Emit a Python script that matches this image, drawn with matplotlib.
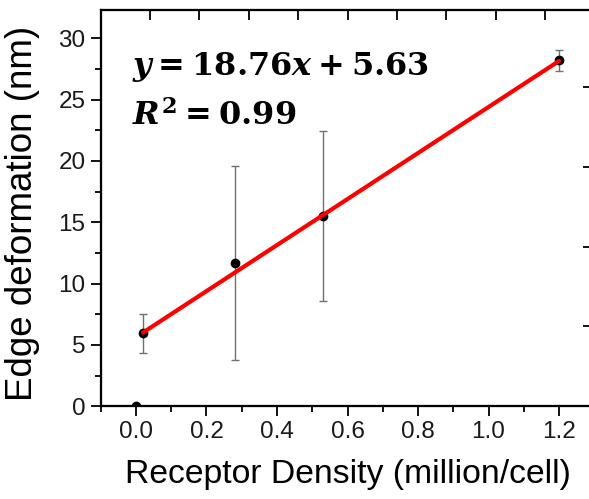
import matplotlib
matplotlib.use("Agg")
import matplotlib.pyplot as plt
import numpy as np

# Data
density = [0.0, 0.02, 0.28, 0.53, 1.2]
deformation = [0.0, 5.95, 11.65, 15.5, 28.2]
deform_err = [0.0, 1.6, 7.9, 6.95, 0.85]
fit_slope = 18.76
fit_intercept = 5.63
fit_x = [0.02, 1.2]
r_squared = 0.99
x_ticks = [0.0, 0.2, 0.4, 0.6, 0.8, 1.0, 1.2]
x_ticklabels = ["0.0", "0.2", "0.4", "0.6", "0.8", "1.0", "1.2"]
y_ticks = [0, 5, 10, 15, 20, 25, 30]
top_ticks = [-0.1, 0.04, 0.18, 0.32, 0.46, 0.60, 0.74, 0.88, 1.02, 1.16]
right_ticks = [0, 6.5, 13, 19.5, 26]

plt.rcParams['font.family'] = ['Liberation Sans', 'DejaVu Sans']
plt.rcParams['mathtext.fontset'] = 'custom'
plt.rcParams['mathtext.rm'] = 'DejaVu Serif:bold'
plt.rcParams['mathtext.it'] = 'DejaVu Serif:bold:italic'
plt.rcParams['mathtext.bf'] = 'DejaVu Serif:bold'

fig = plt.figure(figsize=(5.89, 4.99), dpi=100)
ax = fig.add_axes([0.171, 0.186, 0.838, 0.794])

xlim = (-0.1, 1.3)
ylim = (0, 32.3)

ax.errorbar(density, deformation, yerr=deform_err, fmt='none', ecolor='#707070',
            elinewidth=1.0, capsize=3, capthick=1.0, zorder=2)
ax.plot(density, deformation, 'o', color='black', markersize=6, zorder=3, clip_on=True)
fx = np.array(fit_x)
ax.plot(fx, fit_slope * fx + fit_intercept, color='#ff0000', linewidth=3, zorder=4,
        solid_capstyle='round')

ax.set_xlim(*xlim)
ax.set_ylim(*ylim)
ax.set_xticks(x_ticks)
ax.set_xticklabels(x_ticklabels)
ax.set_yticks(y_ticks)
ax.xaxis.set_minor_locator(matplotlib.ticker.FixedLocator([-0.1, 0.1, 0.3, 0.5, 0.7, 0.9, 1.1]))
ax.yaxis.set_minor_locator(matplotlib.ticker.FixedLocator([2.5, 7.5, 12.5, 17.5, 22.5, 27.5]))
ax.tick_params(which='major', direction='out', length=7, width=1.3, labelsize=17.5, pad=4,
               colors='black', labelcolor='#1a1a1a')
ax.tick_params(which='minor', direction='out', length=4, width=1.3)
for s in ['left', 'bottom', 'top', 'right']:
    ax.spines[s].set_linewidth(1.5)

ax.set_xlabel('Receptor Density (million/cell)', fontsize=24.3)
ax.set_ylabel('Edge deformation (nm)', fontsize=26.5)
ax.xaxis.set_label_coords(0.5, -0.133)
ax.yaxis.set_label_coords(-0.124, 0.487)

# top ticks
axt = ax.twiny()
axt.set_xlim(*xlim)
axt.set_xticks(top_ticks)
axt.set_xticklabels([])
axt.tick_params(direction='in', length=7, width=1.3)
# right ticks
axr = ax.twinx()
axr.set_ylim(*ylim)
axr.set_yticks(right_ticks)
axr.set_yticklabels([])
axr.tick_params(direction='in', length=8, width=1.3)
for a in (axt, axr):
    for s in a.spines.values():
        s.set_linewidth(1.5)

ax.text(-0.01, 27.0, r'$y = %.2fx + %.2f$' % (fit_slope, fit_intercept), fontsize=23,
        ha='left', va='baseline', zorder=5)
ax.text(-0.01, 22.9, r'$R^{2} = %.2f$' % r_squared, fontsize=23,
        ha='left', va='baseline', zorder=5)

fig.savefig('out.png', dpi=100)
